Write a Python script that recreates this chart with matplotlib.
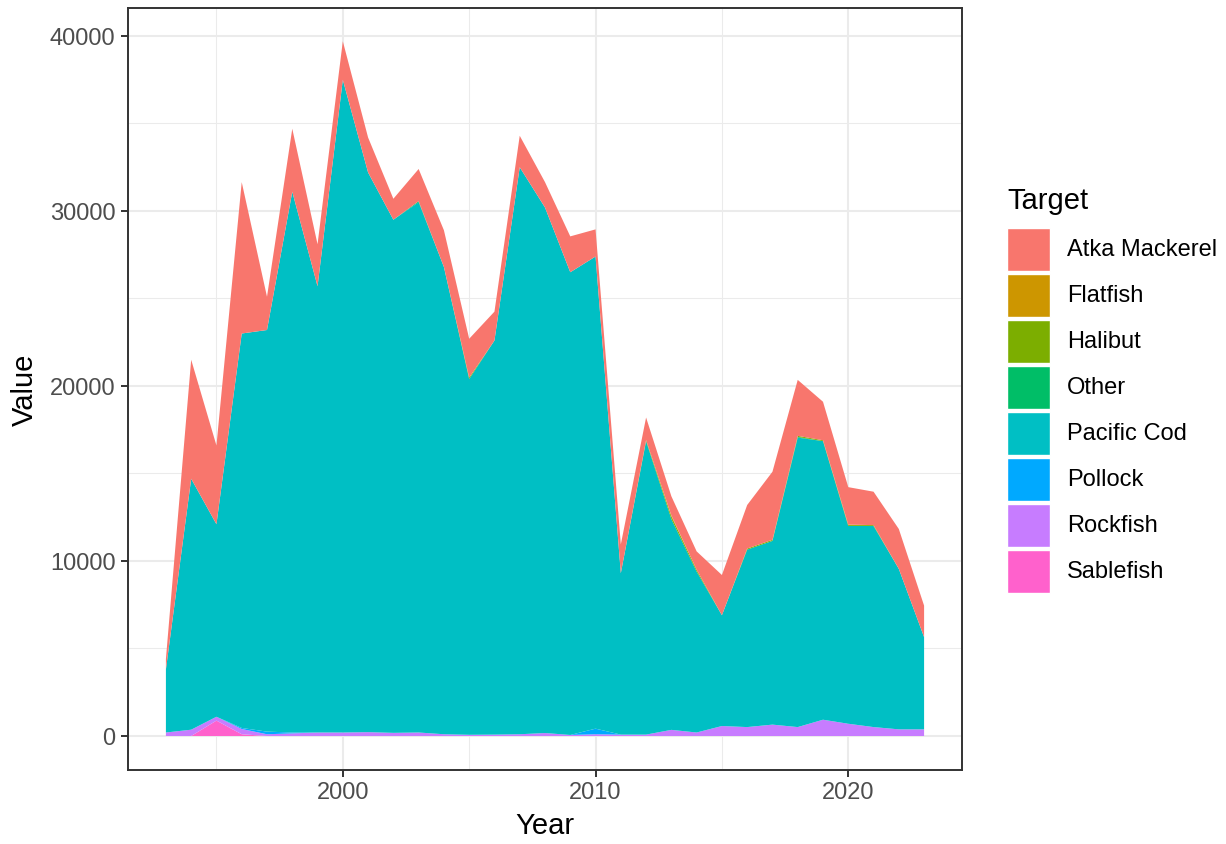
import matplotlib
matplotlib.use("Agg")
import matplotlib.pyplot as plt
from matplotlib.patches import Rectangle
import numpy as np

plt.rcParams['font.family'] = ['Liberation Sans', 'DejaVu Sans']

years = list(range(1993, 2024))

sablefish = [0, 0, 880, 100, 0, 0, 0, 0, 0, 0,
             0, 0, 0, 0, 0, 0, 0, 0, 0, 0,
             0, 0, 0, 0, 0, 0, 0, 0, 0, 0, 0]
rockfish = [200, 360, 220, 300, 100, 150, 200, 200, 220, 180,
            200, 100, 70, 80, 100, 170, 60, 100, 80, 80,
            350, 200, 570, 510, 650, 510, 930, 700, 510, 380, 380]
pollock = [0, 0, 0, 60, 150, 50, 0, 0, 0, 0,
           0, 0, 0, 0, 0, 0, 0, 320, 0, 0,
           0, 0, 0, 0, 0, 0, 0, 0, 0, 0, 0]
pacific_cod = [3600, 14340, 11000, 22540, 22950, 30900, 25500, 37300, 31980, 29320,
               30300, 26700, 20330, 22520, 32400, 30030, 26440, 26980, 9220, 16770,
               12050, 9200, 6330, 10140, 10500, 16540, 15920, 11300, 11490, 9170, 5270]
other = [0, 0, 0, 0, 0, 0, 0, 0, 0, 0,
         60, 0, 0, 0, 0, 0, 0, 0, 0, 0,
         0, 0, 0, 0, 0, 40, 0, 0, 0, 0, 0]
halibut = [0, 0, 0, 0, 0, 0, 0, 0, 0, 0,
           0, 0, 80, 0, 0, 0, 0, 0, 0, 60,
           150, 100, 0, 60, 60, 60, 50, 50, 50, 0, 0]
flatfish = [0, 0, 0, 0, 0, 0, 0, 0, 0, 0,
            0, 0, 0, 0, 0, 0, 0, 0, 0, 0,
            50, 0, 0, 0, 0, 0, 0, 30, 0, 0, 0]
atka_mackerel = [600, 6800, 4500, 8650, 1900, 3600, 2400, 2200, 2000, 1200,
                 1840, 2100, 2220, 1650, 1800, 1450, 2050, 1550, 1650, 1290,
                 1100, 1050, 2300, 2490, 3890, 3200, 2200, 2140, 1910, 2280, 1800]

targets = ["Atka Mackerel", "Flatfish", "Halibut", "Other", "Pacific Cod",
           "Pollock", "Rockfish", "Sablefish"]
colors = ["#F8766D", "#CD9600", "#7CAE00", "#00BE67", "#00BFC4",
          "#00A9FF", "#C77CFF", "#FF61CC"]
series = [atka_mackerel, flatfish, halibut, other, pacific_cod,
          pollock, rockfish, sablefish]

W, H = 1226, 845
fig = plt.figure(figsize=(W / 100, H / 100), dpi=100)
L, R, T, B = 128, 962, 9, 771
ax = fig.add_axes([L / W, 1 - B / H, (R - L) / W, (B - T) / H])

# stack bottom-up: reverse of legend order (ggplot stacks first level on top)
ax.stackplot(years, *series[::-1], colors=colors[::-1], linewidth=0, zorder=2)

ax.set_xlim(1991.5, 2024.5)
ax.set_ylim(-1943, 41600)
ax.set_xticks([2000, 2010, 2020])
ax.set_xticks([1995, 2005, 2015], minor=True)
ax.set_yticks([0, 10000, 20000, 30000, 40000])
ax.set_yticks([5000, 15000, 25000, 35000], minor=True)
ax.grid(which='major', color='#EBEBEB', linewidth=1.5, zorder=0)
ax.grid(which='minor', color='#EBEBEB', linewidth=0.75, zorder=0)
ax.set_axisbelow(True)
for s in ax.spines.values():
    s.set_color('#333333')
    s.set_linewidth(1.4)
    s.set_zorder(5)
ax.tick_params(which='major', length=5, width=1.4, color='#333333',
               labelcolor='#4D4D4D', labelsize=17, pad=4)
ax.tick_params(axis='x', which='major', pad=3)
ax.tick_params(which='minor', length=0)

fig.text(((L + R) / 2) / W, 1 - 826 / H, "Year", ha='center', va='center', size=21)
fig.text(25 / W, 1 - ((T + B) / 2) / H, "Value", ha='center', va='center',
         rotation=90, size=21)

# legend
fig.text(1007 / W, 1 - 209 / H, "Target", ha='left', va='baseline', size=21)
for i, (lab, col) in enumerate(zip(targets, colors)):
    top = 229 + 46 * i
    rect = Rectangle((1007 / W, 1 - (top + 43) / H), 43 / W, 43 / H,
                     transform=fig.transFigure, facecolor=col,
                     edgecolor='white', linewidth=1.0)
    fig.patches.append(rect)
    fig.text(1067 / W, 1 - (top + 21.5) / H, lab, ha='left', va='center', size=17)

fig.savefig("out.png", dpi=100)
